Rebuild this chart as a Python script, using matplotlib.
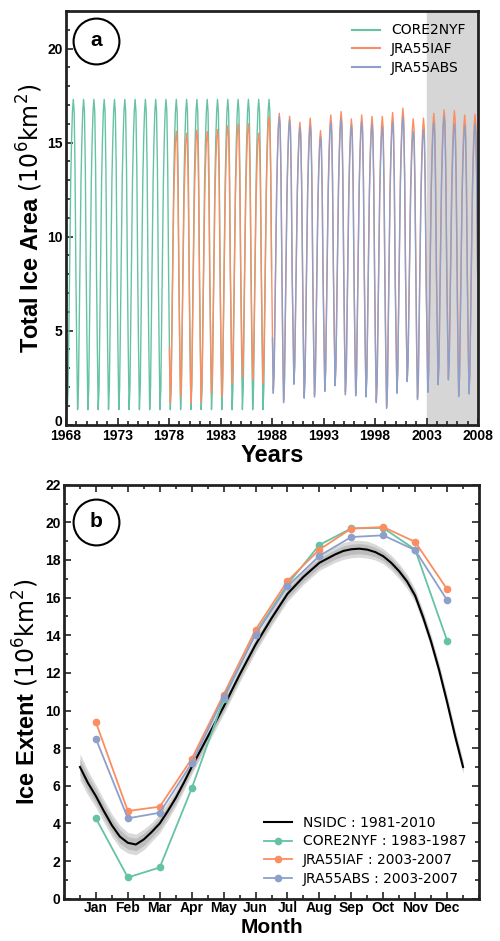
import numpy as np
import matplotlib
matplotlib.use("Agg")
import matplotlib.pyplot as plt
from matplotlib.ticker import MultipleLocator
from matplotlib.transforms import ScaledTranslation

plt.rcParams["font.family"] = ["DejaVu Sans"]
plt.rcParams["mathtext.fontset"] = "dejavusans"

# ---------------- dati pannello (a): area totale mensile ----------------
# forma del ciclo stagionale (frazione tra minimo di feb e massimo di set)
cycle_shape = [0.20, 0.0, 0.07, 0.30, 0.55, 0.74, 0.87, 0.96, 1.0, 0.96, 0.78, 0.45]

core_years = list(range(1968, 1988))
core_max = [17.3] * 20
core_min = [0.8] * 20

iaf_years = list(range(1978, 2008))
iaf_max = [15.6, 15.5, 15.67, 15.6, 15.7, 15.9, 16.0, 16.0, 15.5, 16.4,
           16.56, 16.4, 16.08, 16.3, 15.64, 16.47, 16.65, 16.26, 16.47, 16.4,
           16.4, 16.6, 16.83, 16.26, 16.3, 16.56, 16.74, 16.7, 16.47, 16.5]
iaf_min = [1.17, 1.49, 1.17, 1.2, 1.67, 1.53, 2.2, 2.5, 2.4, 2.23,
           1.85, 1.3, 2.3, 1.55, 1.6, 1.9, 2.2, 1.75, 1.65, 1.6,
           1.3, 1.0, 1.8, 2.4, 1.45, 1.85, 2.25, 2.5, 1.6, 1.75]

abs_years = list(range(1988, 2008))
abs_max = [16.38, 16.2, 15.8, 15.9, 15.3, 16.1, 16.24, 15.9, 16.1, 16.0,
           15.85, 16.1, 16.35, 15.6, 15.7, 16.1, 16.4, 16.0, 15.9, 16.0]
abs_min = [1.67, 1.17, 2.15, 1.41, 1.47, 1.77, 2.07, 1.59, 1.53, 1.47,
           1.17, 0.87, 1.67, 2.29, 1.33, 1.72, 2.12, 2.38, 1.49, 1.63]

year_ticks = [1968, 1973, 1978, 1983, 1988, 1993, 1998, 2003, 2008]

# ---------------- dati pannello (b): estensione mensile ----------------
month_labels = ["Jan", "Feb", "Mar", "Apr", "May", "Jun",
                "Jul", "Aug", "Sep", "Oct", "Nov", "Dec"]
months = np.arange(1, 13)
core_ext = [4.27, 1.13, 1.66, 5.86, 10.6, 14.1, 16.7, 18.8, 19.68, 19.7, 18.55, 13.72]
iaf_ext = [9.37, 4.66, 4.89, 7.43, 10.85, 14.29, 16.88, 18.55, 19.67, 19.75, 18.96, 16.45]
abs_ext = [8.5, 4.27, 4.57, 7.2, 10.7, 14.02, 16.6, 18.22, 19.22, 19.31, 18.52, 15.87]

nsidc_x = [0.5, 0.75, 1.0, 1.25, 1.5, 1.75, 2.0, 2.25, 2.5, 2.75, 3.0, 3.25, 3.5, 3.75, 4.0,
           4.5, 5.0, 5.5, 6.0, 6.5, 7.0, 7.5, 8.0, 8.5, 8.75, 9.0, 9.25, 9.5, 9.75, 10.0,
           10.25, 10.5, 10.75, 11.0, 11.25, 11.5, 11.75, 12.0, 12.25, 12.5]
nsidc_y = [7.0, 6.15, 5.45, 4.65, 3.9, 3.3, 2.97, 2.88, 3.15, 3.55, 4.0, 4.65, 5.35, 6.15, 7.0,
           8.6, 10.2, 11.9, 13.5, 14.9, 16.2, 17.1, 17.85, 18.3, 18.48, 18.57, 18.6, 18.55, 18.42, 18.2,
           17.85, 17.4, 16.85, 16.1, 14.95, 13.65, 12.15, 10.45, 8.65, 7.0]
nsidc_sd = [0.7, 0.65, 0.6, 0.6, 0.6, 0.6, 0.55, 0.55, 0.55, 0.5, 0.5, 0.48, 0.45, 0.42, 0.4,
            0.4, 0.4, 0.4, 0.4, 0.4, 0.4, 0.4, 0.4, 0.42, 0.45, 0.45, 0.45, 0.45, 0.42, 0.4,
            0.4, 0.4, 0.38, 0.35, 0.35, 0.35, 0.35, 0.35, 0.35, 0.35]

c_core = "#66c2a5"
c_iaf = "#fc8d62"
c_abs = "#8da0cb"
tick_font = {"family": "Liberation Sans", "weight": "bold", "size": 10}


def serie_mensile(years, vmax, vmin):
    t, v = [], []
    for y, hi, lo in zip(years, vmax, vmin):
        for m, f in enumerate(cycle_shape):
            t.append(y + (m + 0.5) / 12)
            v.append(lo + f * (hi - lo))
    return np.array(t), np.array(v)


def stile_assi(ax, all_sides=False):
    for s in ax.spines.values():
        s.set_linewidth(2)
        s.set_color("#222222")
    ax.tick_params(which="major", direction="in", length=5, width=1.2,
                   color="#222222", pad=2.5, top=all_sides, right=all_sides)
    ax.tick_params(which="minor", direction="in", length=3, width=1.2,
                   color="#222222", top=all_sides, right=all_sides)
    for lab in ax.get_xticklabels() + ax.get_yticklabels():
        lab.set_fontproperties(tick_font)


def etichetta(ax, lettera, x, y):
    ax.plot(x, y, marker="o", ms=33, mfc="white", mec="black", mew=1.5,
            transform=ax.transAxes, zorder=10, clip_on=False)
    ax.text(x, y, lettera, transform=ax.transAxes, ha="center", va="center",
            family="Liberation Sans", weight="bold", fontsize=15, zorder=11)


fig = plt.figure(figsize=(5, 9.41), dpi=100)

# ---------------- pannello (a) ----------------
ax1 = fig.add_axes([66 / 500, 1 - 424.7 / 941, 412 / 500, 413.7 / 941])
ax1.axvspan(2003, 2008, color="#d6d6d6", zorder=0)
t, v = serie_mensile(core_years, core_max, core_min)
ax1.plot(t, v, color=c_core, lw=1.0, label="CORE2NYF")
t, v = serie_mensile(iaf_years, iaf_max, iaf_min)
ax1.plot(t, v, color=c_iaf, lw=1.0, label="JRA55IAF")
t, v = serie_mensile(abs_years, abs_max, abs_min)
ax1.plot(t, v, color=c_abs, lw=1.0, label="JRA55ABS")

ax1.set_xlim(1968, 2008)
ax1.set_ylim(0, 22)
ax1.set_xticks(year_ticks)
ax1.xaxis.set_minor_locator(MultipleLocator(1))
ax1.set_yticks([0, 5, 10, 15, 20])
ax1.yaxis.set_minor_locator(MultipleLocator(1))
stile_assi(ax1)
ax1.tick_params(axis="x", which="major", pad=3)
# "0" leggermente alzato per non toccare "1968"
zero_lab = ax1.yaxis.get_major_ticks()[0].label1
zero_lab.set_transform(zero_lab.get_transform() + ScaledTranslation(0, 0.04, fig.dpi_scale_trans))
ax1.set_xlabel("Years", family="Liberation Sans", weight="bold", fontsize=17)
ax1.set_ylabel("Total Ice Area $(10^6\\mathrm{km}^2)$", family="Liberation Sans",
               weight="bold", fontsize=17)
ax1.xaxis.set_label_coords(0.5, -0.046)
ax1.yaxis.set_label_coords(-0.052, 0.5)
leg = ax1.legend(loc="upper right", frameon=False, fontsize=10, labelspacing=0.35)
for line in leg.get_lines():
    line.set_linewidth(1.5)
etichetta(ax1, "a", 0.0728, 0.9275)

# ---------------- pannello (b) ----------------
ax2 = fig.add_axes([64 / 500, 42.3 / 941, 415 / 500, 414 / 941])
sd = np.array(nsidc_sd)
ny = np.array(nsidc_y)
ax2.fill_between(nsidc_x, ny - sd, ny + sd, color="#d9d9d9", lw=0, zorder=1)
ax2.fill_between(nsidc_x, ny - 0.6 * sd, ny + 0.6 * sd, color="#bdbdbd", lw=0, zorder=1)
ax2.plot(nsidc_x, nsidc_y, color="black", lw=1.5, zorder=3, label="NSIDC : 1981-2010")
ax2.plot(months, core_ext, color=c_core, lw=1.3, marker="o", ms=4.5, zorder=4,
         label="CORE2NYF : 1983-1987")
ax2.plot(months, iaf_ext, color=c_iaf, lw=1.3, marker="o", ms=4.5, zorder=4,
         label="JRA55IAF : 2003-2007")
ax2.plot(months, abs_ext, color=c_abs, lw=1.3, marker="o", ms=4.5, zorder=4,
         label="JRA55ABS : 2003-2007")

ax2.set_xlim(0, 13)
ax2.set_ylim(0, 22)
ax2.set_xticks(months)
ax2.set_xticklabels(month_labels)
ax2.xaxis.set_minor_locator(MultipleLocator(0.5))
ax2.yaxis.set_major_locator(MultipleLocator(2))
ax2.yaxis.set_minor_locator(MultipleLocator(1))
stile_assi(ax2, all_sides=True)
ax2.tick_params(axis="x", which="major", pad=2)
ax2.set_xlabel("Month", family="Liberation Sans", weight="bold", fontsize=15)
ax2.set_ylabel("Ice Extent $(10^6\\mathrm{km}^2)$", family="Liberation Sans",
               weight="bold", fontsize=17)
ax2.xaxis.set_label_coords(0.5, -0.0465)
ax2.yaxis.set_label_coords(-0.055, 0.5)
ax2.legend(loc="lower right", frameon=False, fontsize=10, labelspacing=0.35)
etichetta(ax2, "b", 0.077, 0.911)

fig.savefig("out.png", dpi=100)
